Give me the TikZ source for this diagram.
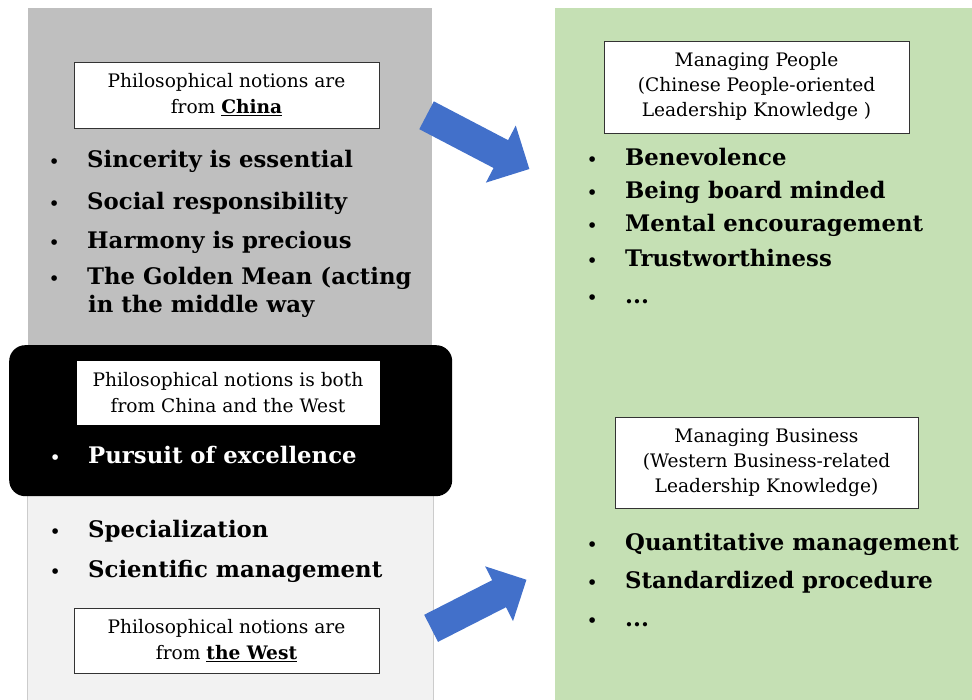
\documentclass[tikz,border=0pt]{standalone}
\usepackage{fontspec}
\setmainfont{DejaVu Serif}
\usepackage{xcolor}
\usepackage{tikz}
\definecolor{notegrey}{RGB}{191,191,191}
\definecolor{westgrey}{RGB}{242,242,242}
\definecolor{leadgreen}{RGB}{197,224,180}
\definecolor{arrowblue}{RGB}{66,112,202}
\usetikzlibrary{shapes.arrows,positioning}

\begin{document}
\begin{tikzpicture}[x=1pt, y=-1pt, every node/.style={inner sep=0pt},
    panel/.style={rectangle, anchor=north west},
    notebox/.style={rectangle, draw=black!80, line width=0.8pt, fill=white, align=center, font=\fontsize{18.6}{26}\selectfont},
    bulletitem/.style={anchor=base west, font=\bfseries\fontsize{22.8}{26}\selectfont, execute at begin node={\makebox[38pt][l]{\fontsize{16}{16}\selectfont\textbullet}}},
    contitem/.style={anchor=base west, font=\bfseries\fontsize{22.8}{26}\selectfont},
    blockarrow/.style={single arrow, fill=arrowblue, inner xsep=0pt}]
    \useasboundingbox (0,0) rectangle (972,700);

    % Panels
    \node[panel, fill=leadgreen, minimum width=420, minimum height=692] (lead) at (555,8) {};
    \node[panel, fill=notegrey, minimum width=404, minimum height=350] (china) at (28,8) {};
    \node[panel, fill=westgrey, draw=black!20, minimum width=406, minimum height=230] (west) at (27,480) {};
    \node[panel, fill=black, rounded corners=16pt, minimum width=443, minimum height=151] (both) at (9,345) {};

    % Notion boxes
    \node[notebox, minimum width=305, minimum height=66] (chinanote) at (226.5,95) {Philosophical notions are\\from \underline{\textbf{China}}};
    \node[notebox, draw=white, minimum width=302, minimum height=63] (bothnote) at (228,392.5) {Philosophical notions is both\\from China and the West};
    \node[notebox, minimum width=305, minimum height=65] (westnote) at (226.5,640.5) {Philosophical notions are\\from \underline{\textbf{the West}}};
    \node[notebox, minimum width=305, minimum height=92, font=\fontsize{18.6}{25}\selectfont] (peoplenote) at (756.5,87) {Managing People\\(Chinese People-oriented\\Leadership Knowledge )};
    \node[notebox, minimum width=303, minimum height=91, font=\fontsize{18.6}{25}\selectfont] (businessnote) at (766.5,462.5) {Managing Business\\(Western Business-related\\Leadership Knowledge)};

    % Chinese notions
    \node[bulletitem] (sincerity) at (49,168) {Sincerity is essential};
    \node[bulletitem] (social) at (49,210) {Social responsibility};
    \node[bulletitem] (harmony) at (49,249) {Harmony is precious};
    \node[bulletitem] (golden) at (49,285) {The Golden Mean (acting};
    \node[contitem] (middle) at (88,313) {in the middle way};

    % Shared and Western notions
    \node[bulletitem, text=white] (pursuit) at (50,463) {Pursuit of excellence};
    \node[bulletitem] (special) at (50,537) {Specialization};
    \node[bulletitem] (scientific) at (50,577) {Scientific management};

    % Leadership knowledge
    \node[bulletitem] (benevolence) at (587,166) {Benevolence};
    \node[bulletitem] (board) at (587,199) {Being board minded};
    \node[bulletitem] (mental) at (587,232) {Mental encouragement};
    \node[bulletitem] (trust) at (587,267) {Trustworthiness};
    \node[bulletitem] (moreppl) at (587,304) {...};
    \node[bulletitem] (quant) at (587,550) {Quantitative management};
    \node[bulletitem] (standard) at (587,588) {Standardized procedure};
    \node[bulletitem] (morebiz) at (587,626) {...};

    % Arrows
    \node[blockarrow, inner ysep=15.5pt, single arrow head extend=16.5pt, minimum height=116, rotate=-27.6] (topeople) at (471,138.5) {};
    \node[blockarrow, inner ysep=15pt, single arrow head extend=15.5pt, minimum height=107, rotate=27] (tobusiness) at (472,607.5) {};
\end{tikzpicture}
\end{document}
